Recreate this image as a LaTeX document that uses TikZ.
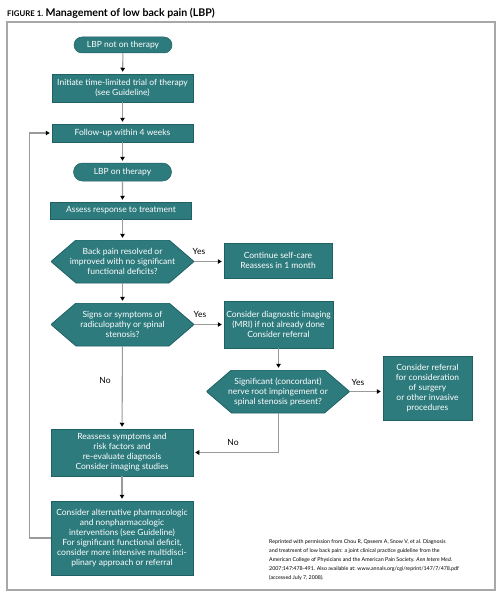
\documentclass[tikz,border=0pt]{standalone}
\usepackage{fontspec}
\setmainfont{Lato}
\usetikzlibrary{shapes.misc,arrows.meta}
\definecolor{tealfill}{HTML}{2E7B7E}
\definecolor{tealedge}{HTML}{1F6063}
\definecolor{linegray}{HTML}{9A9A9A}
\definecolor{framegray}{HTML}{A8A8A8}
\begin{document}
\begin{tikzpicture}[x=1pt,y=-1pt,
  box/.style={rectangle, fill=tealfill, draw=tealedge, line width=0.5pt, text=white, align=center, inner sep=0pt, font=\fontsize{8.5}{10}\selectfont},
  stadium/.style={box, rounded rectangle, minimum width=98pt},
  hexa/.style={rectangle, minimum width=143pt, minimum height=43pt, inner sep=0pt, text=white, align=center, font=\fontsize{8.5}{10}\selectfont,
    path picture={\filldraw[fill=tealfill, draw=tealedge, line width=0.8pt]
      (path picture bounding box.west) -- ([xshift=25pt]path picture bounding box.north west) --
      ([xshift=-25pt]path picture bounding box.north east) -- (path picture bounding box.east) --
      ([xshift=-25pt]path picture bounding box.south east) -- ([xshift=25pt]path picture bounding box.south west) -- cycle;}},
  arr/.style={draw=linegray, line width=1.1pt, -{Triangle[length=4pt,width=4.5pt,color=black,fill=black]}, shorten >=2pt},
  lab/.style={font=\fontsize{8.5}{10}\selectfont, text=black, inner sep=0pt}
]
\useasboundingbox (0,0) rectangle (500,594);
\draw[framegray, line width=1.5pt] (7,22) rectangle (495,590);
\node[anchor=west, inner sep=0pt] (title) at (7,13) {{\fontsize{7.8}{9}\selectfont\bfseries FIGURE 1.}\ {\fontsize{10.6}{12}\selectfont\bfseries Management of low back pain (LBP)}};

\node[stadium, minimum height=16pt] (n1) at (123,45) {LBP not on therapy};
\node[box, minimum width=141pt, minimum height=28pt] (n2) at (122.5,88) {Initiate time-limited trial of therapy\\(see Guideline)};
\node[box, minimum width=141pt, minimum height=18pt] (n3) at (122.5,133) {Follow-up within 4 weeks};
\node[stadium, minimum height=18pt] (n4) at (122.5,172) {LBP on therapy};
\node[box, minimum width=141pt, minimum height=17pt] (n5) at (121,210.5) {Assess response to treatment};
\node[hexa] (h1) at (122.5,261.5) {Back pain resolved or\\improved with no significant\\functional deficits?};
\node[box, minimum width=108pt, minimum height=35pt] (c1) at (278,260.5) {Continue self-care\\Reassess in 1 month};
\node[hexa] (h2) at (122.5,324.5) {Signs or symptoms of\\radiculopathy or spinal\\stenosis?};
\node[box, minimum width=109pt, minimum height=47pt] (c2) at (278.5,324.5) {Consider diagnostic imaging\\(MRI) if not already done\\Consider referral};
\node[hexa] (h3) at (278,391.5) {Significant (concordant)\\nerve root impingement or\\spinal stenosis present?};
\node[box, minimum width=89pt, minimum height=64pt] (c3) at (427.5,388) {Consider referral\\for consideration\\of surgery\\or other invasive\\procedures};
\node[box, minimum width=142pt, minimum height=47pt] (r1) at (122,452.5) {Reassess symptoms and\\risk factors and\\re-evaluate diagnosis\\Consider imaging studies};
\node[box, minimum width=142pt, minimum height=74pt] (r2) at (122,538) {Consider alternative pharmacologic\\and nonpharmacologic\\interventions (see Guideline)\\For significant functional deficit,\\consider more intensive multidisci-\\plinary approach or referral};

\draw[arr] (n1) -- (n2);
\draw[arr] (n2) -- (n3);
\draw[arr] (n3) -- (n4);
\draw[arr] (n4) -- (n5.north -| n4.south);
\draw[arr] (n5.south -| h1.north) -- (h1);
\draw[arr] (h1) -- (h2);
\draw[arr] (h1.east) -- (c1.west |- h1.east);
\draw[arr] (h2.east) -- (c2.west |- h2.east);
\draw[arr] (h2) -- (r1);
\draw[arr] (c2.south) -- (c2.south |- h3.north);
\draw[arr] (h3.east) -- (c3.west |- h3.east);
\draw[arr] (h3.south -| c2.south) |- (r1.east);
\draw[arr] (r1) -- (r2);
\draw[arr] (r2.west) -- ++(-21,0) |- (n3.west);

\node[lab] (y1) at (199,251) {Yes};
\node[lab] (y2) at (200,314) {Yes};
\node[lab] (y3) at (358,382) {Yes};
\node[lab] (no1) at (105,380) {No};
\node[lab] (no2) at (233,442) {No};

\node[anchor=north west, align=left, inner sep=0pt, font=\fontsize{5.3}{9}\selectfont] (cite) at (269,539) {Reprinted with permission from Chou R, Qaseem A, Snow V, et al. Diagnosis\\and treatment of low back pain: a joint clinical practice guideline from the\\American College of Physicians and the American Pain Society. \textit{Ann Intern Med.}\\2007;147:478-491. Also available at: www.annals.org/cgi/reprint/147/7/478.pdf\\(accessed July 7, 2008).};
\end{tikzpicture}
\end{document}
